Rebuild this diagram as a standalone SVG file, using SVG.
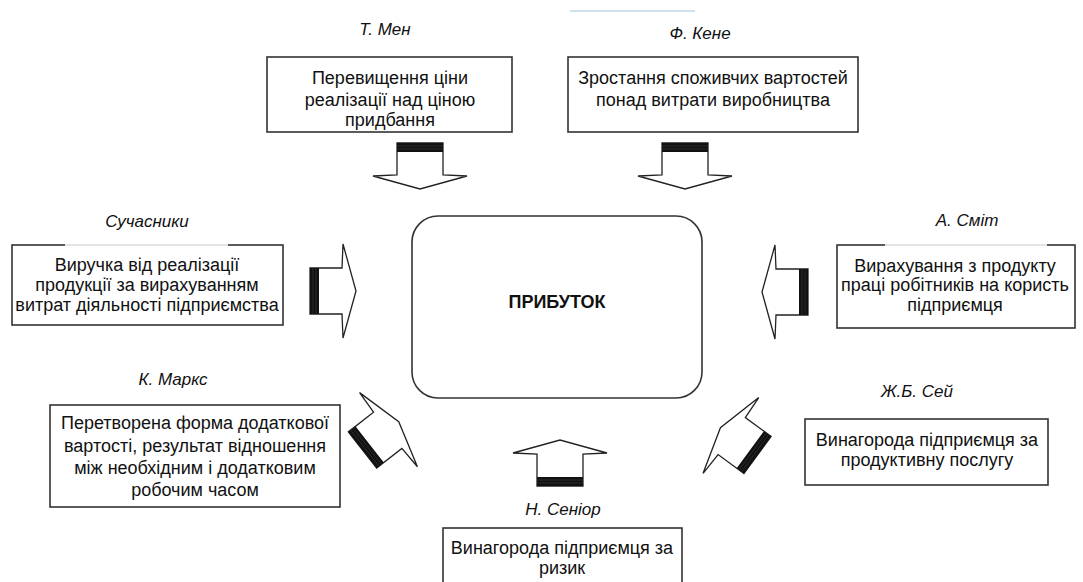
<svg xmlns="http://www.w3.org/2000/svg" xmlns:xlink="http://www.w3.org/1999/xlink" width="1083" height="582" viewBox="0 0 1083 582">
<style>
.box{fill:#fff;stroke:#333;stroke-width:1.6}
.t{font-family:"Liberation Sans",Arial,sans-serif;font-size:18px;fill:#111;text-anchor:middle}
.a{font-family:"Liberation Sans",Arial,sans-serif;font-size:17px;font-style:italic;fill:#111;text-anchor:middle}
.b{font-family:"Liberation Sans",Arial,sans-serif;font-size:18px;font-weight:bold;fill:#111;text-anchor:middle}
.gap{stroke:#fff;stroke-width:2.2}
.gapl{stroke:#bbb;stroke-width:0.8}
</style>
<defs>
<g id="arr">
<path d="M0,-23 H32 L33,-47 L46,0 L33,47 L32,23 H0 Z" fill="#fff" stroke="#222" stroke-width="1.3" stroke-linejoin="miter"/>
<rect x="0" y="-23" width="9" height="46" fill="#111"/>
<line x1="3" y1="-23" x2="3" y2="23" stroke="#444" stroke-width="0.5"/>
<line x1="6" y1="-23" x2="6" y2="23" stroke="#444" stroke-width="0.5"/>
</g>
</defs>
<rect width="1083" height="582" fill="#fff"/>
<line x1="570" y1="11" x2="695" y2="11" stroke="#9cc3e0" stroke-width="1.2"/>

<g id="connectors">
<use xlink:href="#arr" transform="translate(420,143) rotate(90)"/>
<use xlink:href="#arr" transform="translate(685,143) rotate(90)"/>
<use xlink:href="#arr" transform="translate(310,291)"/>
<use xlink:href="#arr" transform="translate(808,292) rotate(180)"/>
<use xlink:href="#arr" transform="translate(362.5,450) rotate(-38)"/>
<use xlink:href="#arr" transform="translate(757.5,455) rotate(-143.7)"/>
<use xlink:href="#arr" transform="translate(560,486) rotate(-90)"/>
</g>

<g id="profit">
<rect x="412" y="216" width="290" height="182" rx="26" ry="26" class="box"/>
<text x="557" y="308" class="b">ПРИБУТОК</text>
</g>

<g id="men">
<text x="385" y="35" class="a">Т. Мен</text>
<rect x="267" y="57" width="245" height="75" class="box"/>
<text x="390" y="84" class="t">Перевищення ціни</text>
<text x="390" y="106" class="t">реалізації над ціною</text>
<text x="390" y="126" class="t">придбання</text>
</g>

<g id="kene">
<text x="700" y="39" class="a">Ф. Кене</text>
<rect x="568" y="57" width="290" height="75" class="box"/>
<text x="713" y="84" class="t">Зростання споживчих вартостей</text>
<text x="713" y="106" class="t">понад витрати виробництва</text>
</g>

<g id="suchasnyky">
<text x="147" y="227" class="a">Сучасники</text>
<rect x="12" y="245" width="271" height="80" class="box"/>
<line x1="65" y1="245" x2="228" y2="245" class="gap"/>
<line x1="65" y1="245" x2="228" y2="245" class="gapl"/>
<text x="147" y="271" class="t">Виручка від реалізації</text>
<text x="147" y="291" class="t">продукції за вирахуванням</text>
<text x="147" y="311" class="t">витрат діяльності підприємства</text>
</g>

<g id="smith">
<text x="967" y="226" class="a">А. Сміт</text>
<rect x="837" y="245" width="238" height="83" class="box"/>
<line x1="885" y1="245" x2="1047" y2="245" class="gap"/>
<line x1="885" y1="245" x2="1047" y2="245" class="gapl"/>
<text x="955" y="272" class="t">Вирахування з продукту</text>
<text x="955" y="291" class="t">праці робітників на користь</text>
<text x="955" y="311" class="t">підприємця</text>
</g>

<g id="marx">
<text x="173" y="385" class="a">К. Маркс</text>
<rect x="50" y="405" width="290" height="102" class="box"/>
<text x="195" y="429" class="t">Перетворена форма додаткової</text>
<text x="195" y="452" class="t">вартості, результат відношення</text>
<text x="195" y="474" class="t">між необхідним і додатковим</text>
<text x="195" y="496" class="t">робочим часом</text>
</g>

<g id="say">
<text x="917" y="397" class="a">Ж.Б. Сей</text>
<rect x="805" y="419" width="243" height="66" class="box"/>
<text x="927" y="446" class="t">Винагорода підприємця за</text>
<text x="927" y="466" class="t">продуктивну послугу</text>
</g>

<g id="senior">
<text x="563" y="515" class="a">Н. Сеніор</text>
<rect x="443" y="528" width="239" height="70" class="box"/>
<text x="562" y="554" class="t">Винагорода підприємця за</text>
<text x="562" y="574" class="t">ризик</text>
</g>
</svg>
